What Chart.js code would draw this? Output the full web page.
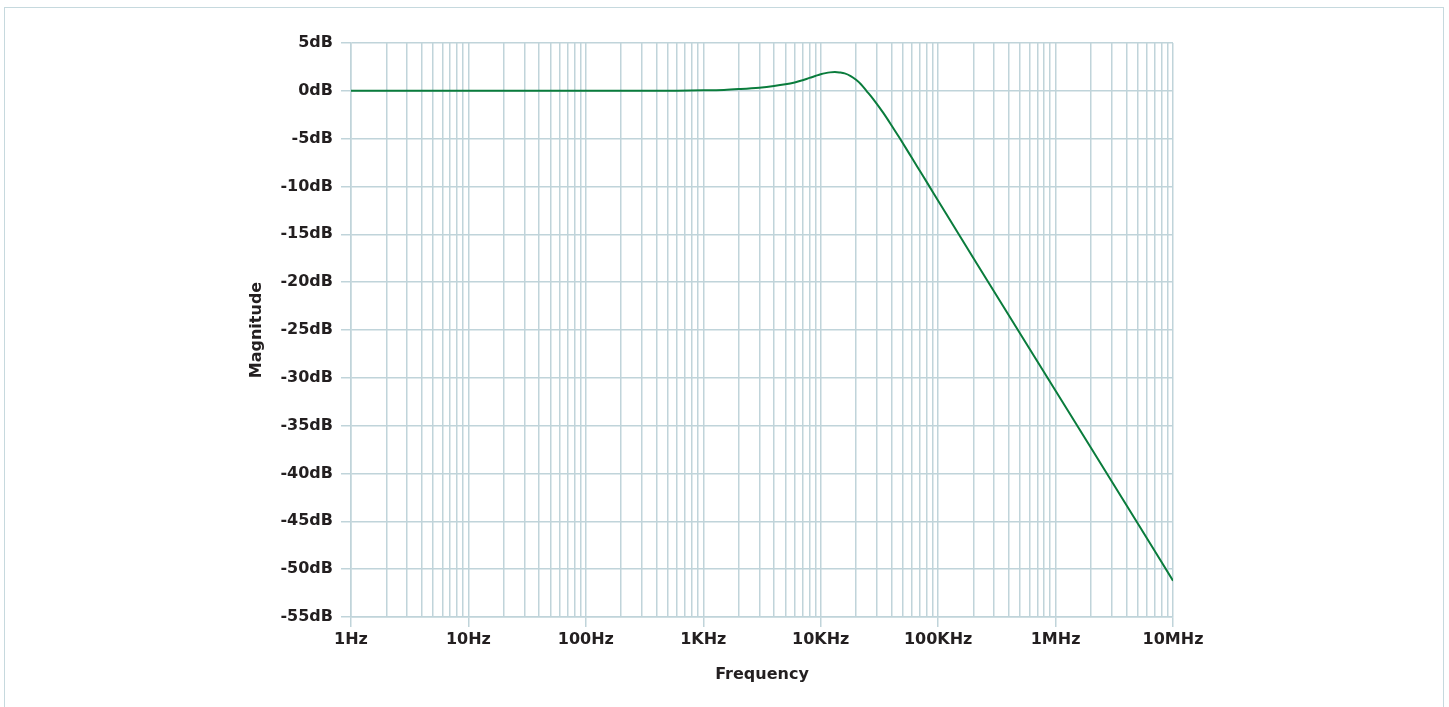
<!DOCTYPE html>
<html>
<head>
<meta charset="utf-8">
<script src="https://cdn.jsdelivr.net/npm/chart.js@4.4.1/dist/chart.umd.min.js"></script>
<style>
  html, body { margin: 0; padding: 0; background: #fff; overflow: hidden; }
  #frame { position: absolute; left: 4px; top: 7px; width: 1440px; height: 760px; border: 1.5px solid #c6d9de; box-sizing: border-box; }
  #chart { position: absolute; left: 0; top: 0; }
</style>
</head>
<body>
<div id="frame"></div>
<canvas id="chart" width="1449" height="707"></canvas>
<script>
// frequency (Hz) and magnitude (dB)
const freqs = [1, 10, 100, 300, 600, 1000, 1500, 2000, 3000, 4000, 5000, 6000, 7000, 8000, 9000,
  10000, 11000, 12000, 13200, 14500, 16000, 18000, 20000, 22000, 24600, 28000, 34000, 40000,
  47000, 59500, 70000, 81500, 100000, 200000, 500000, 1000000, 2000000, 5000000, 10000000];
const magnitudes = [0, 0, 0, 0.01, 0.02, 0.05, 0.1, 0.18, 0.33, 0.5, 0.68, 0.88, 1.1, 1.35, 1.55,
  1.73, 1.85, 1.93, 1.97, 1.92, 1.82, 1.54, 1.15, 0.69, -0.02, -0.86, -2.28, -3.59,
  -4.94, -6.97, -8.38, -9.7, -11.48, -17.5, -25.4, -31.35, -37.3, -45.2, -51.2];

// x axis labels, one per decade
const decadeValues = [1, 10, 100, 1000, 10000, 100000, 1000000, 10000000];
const decadeLabels = ['1Hz', '10Hz', '100Hz', '1KHz', '10KHz', '100KHz', '1MHz', '10MHz'];
const minorSteps = [1, 2, 3, 4, 5, 6, 7, 8, 9];

// y axis range
const yMin = -55;
const yMax = 5;
const yStep = 5;

const xTicks = [];
decadeValues.slice(0, -1).forEach(d => minorSteps.forEach(m => xTicks.push(m * d)));
xTicks.push(decadeValues[decadeValues.length - 1]);

const gridColor = '#c0d4da';
const textColor = '#231f20';
const font = { family: '"DejaVu Sans", sans-serif', size: 16, weight: 'bold' };

const ctx = document.getElementById('chart').getContext('2d');

new Chart(ctx, {
  type: 'line',
  data: {
    datasets: [{
      data: freqs.map((f, i) => ({ x: f, y: magnitudes[i] })),
      borderColor: '#0a7c3c',
      borderWidth: 2,
      pointRadius: 0,
      cubicInterpolationMode: 'monotone',
      fill: false
    }]
  },
  options: {
    responsive: false,
    animation: false,
    devicePixelRatio: 1,
    layout: { padding: { left: 240, right: 276, top: 43, bottom: 22 } },
    plugins: {
      legend: { display: false },
      tooltip: { enabled: false }
    },
    scales: {
      x: {
        type: 'logarithmic',
        min: 1,
        max: 10000000,
        afterBuildTicks: scale => {
          scale.ticks = xTicks.map(v => ({ value: v, major: decadeValues.includes(v) }));
        },
        afterFit: scale => { scale.height = 68; },
        ticks: {
          autoSkip: false,
          maxRotation: 0,
          minRotation: 0,
          padding: 3,
          color: textColor,
          font: font,
          callback: value => {
            const i = decadeValues.indexOf(value);
            return i >= 0 ? decadeLabels[i] : '';
          }
        },
        grid: {
          color: gridColor,
          lineWidth: 1.5,
          tickLength: 10,
          tickColor: c => (c.tick && decadeValues.includes(c.tick.value)) ? gridColor : 'rgba(0,0,0,0)'
        },
        border: { color: gridColor, width: 1.5 },
        title: {
          display: true,
          text: 'Frequency',
          color: textColor,
          font: font,
          padding: { top: 0, bottom: 1 }
        }
      },
      y: {
        min: yMin,
        max: yMax,
        afterFit: scale => { scale.width = 111; },
        ticks: {
          stepSize: yStep,
          padding: 8,
          color: textColor,
          font: font,
          callback: value => value + 'dB'
        },
        grid: {
          color: gridColor,
          lineWidth: 1.5,
          tickLength: 10
        },
        border: { color: gridColor, width: 1.5 },
        title: {
          display: true,
          text: 'Magnitude',
          color: textColor,
          font: font,
          padding: { top: 7, bottom: 0 }
        }
      }
    }
  }
});
</script>
</body>
</html>
